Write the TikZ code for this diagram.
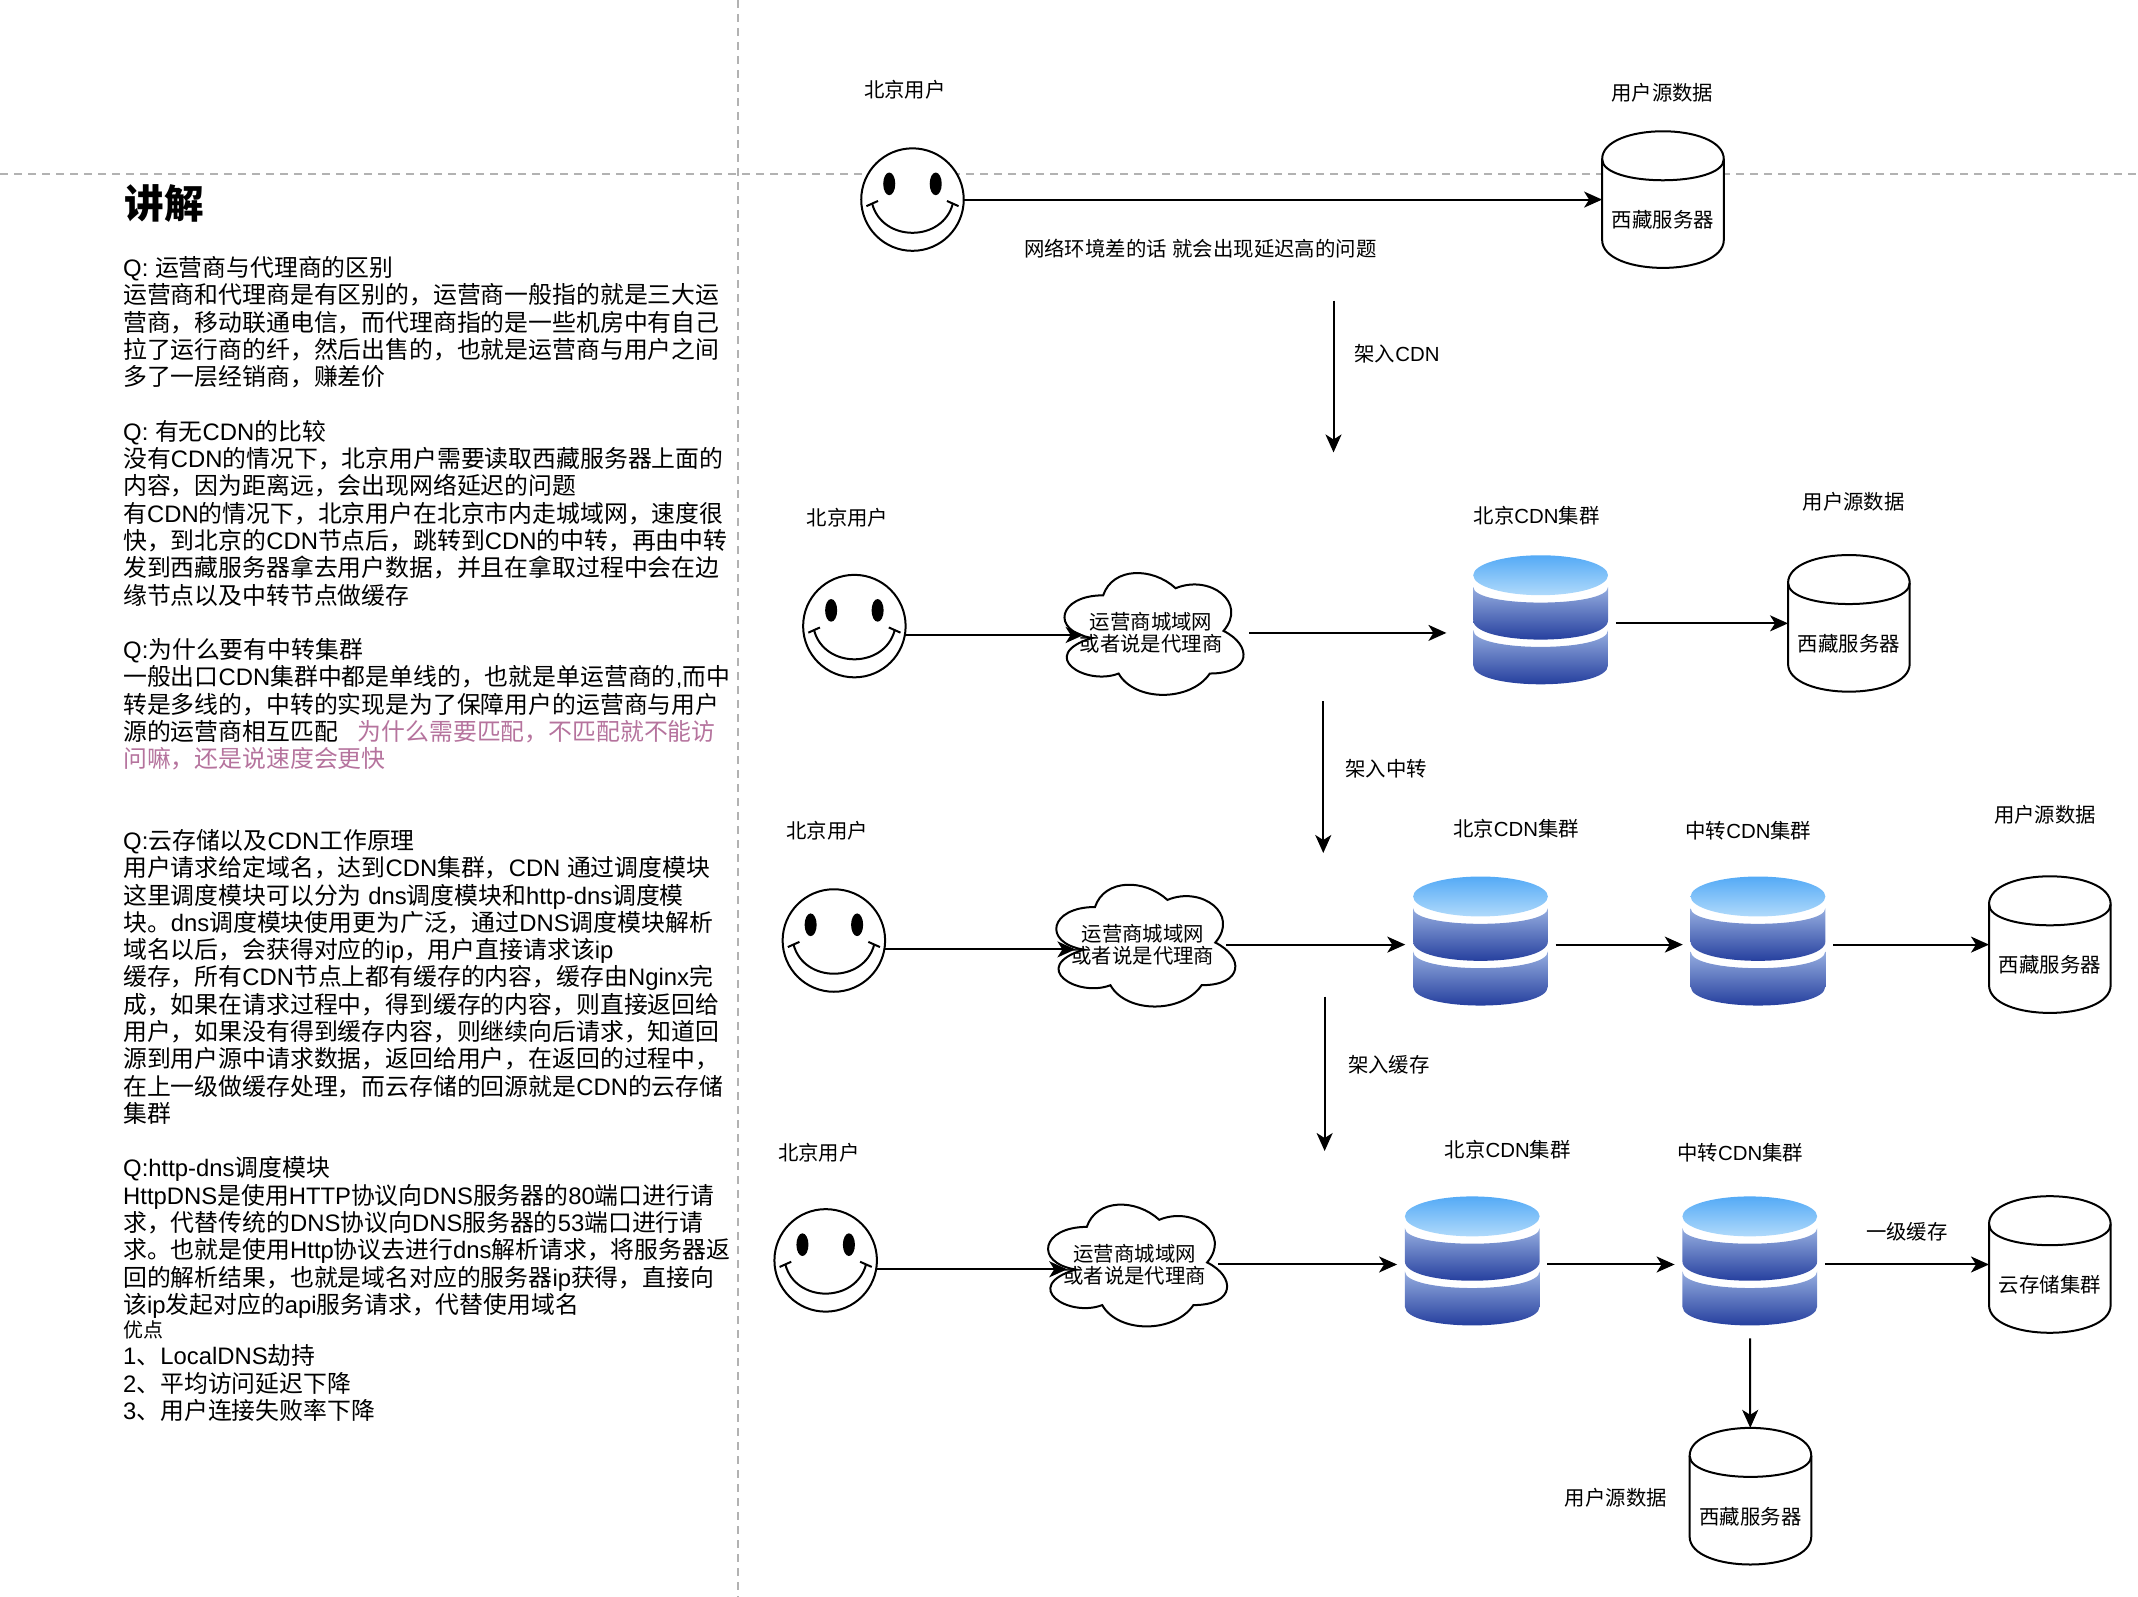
\documentclass[tikz,border=0pt]{standalone}
\usepackage{fontspec}
\usetikzlibrary{arrows.meta}
\setmainfont{Liberation Sans}
\newfontfamily\cjk{Noto Sans CJK SC}
\definecolor{guidegray}{RGB}{178,178,178}
\definecolor{notepink}{RGB}{181,115,157}
\definecolor{disktop}{RGB}{84,170,246}
\definecolor{disklow}{RGB}{176,218,251}
\definecolor{bandtop}{RGB}{150,174,224}
\definecolor{bandlow}{RGB}{24,50,150}

% han characters go to the cjk family, all the rest stays in the main font
\newXeTeXintercharclass\cjkclass
\newcount\chr
\chr="3000 \loop\ifnum\chr<"A000 \XeTeXcharclass\chr=\cjkclass \advance\chr by 1 \repeat
\chr="FF00 \loop\ifnum\chr<"FFF0 \XeTeXcharclass\chr=\cjkclass \advance\chr by 1 \repeat
\XeTeXinterchartoks 0 \cjkclass={\cjk}
\XeTeXinterchartoks 4095 \cjkclass={\cjk}
\XeTeXinterchartoks \cjkclass 0={\rmfamily}
\XeTeXinterchartoks \cjkclass 4095={\rmfamily}
\XeTeXinterchartokenstate=1

\tikzset{
    lbl/.style={inner sep=0, font=\fontsize{20.4}{22}\selectfont},
    shapeline/.style={line width=2pt, draw=black},
    flowline/.style={line width=2pt, -{Stealth[length=18pt,width=16pt,inset=5pt]}},
    guide/.style={line width=1.6pt, draw=guidegray, dash pattern=on 8pt off 6pt},
    pics/smiley/.style={code={
        \node[circle, shapeline, fill=white, minimum size=102.5pt, inner sep=0, outer sep=0] (-face) {};
        \fill (-17,-11.5) ellipse [x radius=4.4, y radius=8.3];
        \fill (17,-11.5) ellipse [x radius=4.4, y radius=8.3];
        \draw[shapeline] (-29.5,3) .. controls (-22,31.4) and (22,31.4) .. (29.5,3);
        \draw[shapeline] (-33.7,4.8) -- (-25.2,1);
        \draw[shapeline] (25.2,1) -- (33.7,4.8);
    }},
    pics/dbcyl/.style={code={
        \node[minimum width=121.7pt, minimum height=136.7pt, inner sep=0, outer sep=0] (-body) {};
        \draw[shapeline, fill=white] (-44.5,-29.5) .. controls (-44.5,-56.8) and (44.5,-56.8) .. (44.5,-29.5)
            -- (44.5,29.5) .. controls (44.5,56.8) and (-44.5,56.8) .. (-44.5,29.5) -- cycle;
        \draw[shapeline] (-44.5,-29.5) .. controls (-44.5,-9) and (44.5,-9) .. (44.5,-29.5);
        \node[lbl] (-text) at (0,15) {#1};
    }},
    pics/cdnstack/.style={code={
        \node[minimum width=150.4pt, minimum height=147.6pt, inner sep=0, outer sep=0] (-body) {};
        \shade[top color=disktop, bottom color=disklow] (0,-35.2) ellipse [x radius=49.3, y radius=14.6];
        \shade[top color=bandtop, bottom color=bandlow] (-49.3,-26.6) .. controls (-49.3,-11.4) and (49.3,-11.4) .. (49.3,-26.6)
            -- (49.3,-2.3) .. controls (49.3,16.6) and (-49.3,16.6) .. (-49.3,-2.3) -- cycle;
        \shade[top color=bandtop, bottom color=bandlow] (-49.3,5) .. controls (-49.3,21.3) and (49.3,21.3) .. (49.3,5)
            -- (49.3,30.7) .. controls (49.3,49.2) and (-49.3,49.2) .. (-49.3,30.7) -- cycle;
    }},
    pics/netcloud/.style={code={
        \node[minimum width=166.8pt, minimum height=60pt, inner sep=0, outer sep=0] (-body) {};
        \draw[shapeline, fill=white] (-35,-27.5) .. controls (-68,-27.5) and (-74,-1.5) .. (-43.2,3.7)
            .. controls (-84,16.2) and (-48,39.1) .. (-23.7,29.7)
            .. controls (-12,50.5) and (29,50.5) .. (43,29.7)
            .. controls (74,29.7) and (74,8.9) .. (53,-1.5)
            .. controls (71,-22.3) and (43,-43.1) .. (18,-32.7)
            .. controls (1,-48.3) and (-28,-48.3) .. (-35,-27.5) -- cycle;
        \node[lbl, align=center] (-text) at (0,0) {运营商城域网\\或者说是代理商};
    }},
}

\begin{document}
\begin{tikzpicture}[x=1.367pt, y=-1.367pt]

    \useasboundingbox (0,0) rectangle (1564,1167.6);

    % page guides
    \coordinate (gl) at (0,127.5);
    \coordinate (gr) at (1564,127.5);
    \coordinate (gt) at (540,0);
    \coordinate (gb) at (540,1167.6);
    \draw[guide] (gl) -- (gr);
    \draw[guide] (gt) -- (gb);

    % notes
    \node[anchor=west, inner sep=0, font=\fontsize{39.6}{44}\selectfont\bfseries] (title) at (91,149) {讲解};
    \node[anchor=north west, inner sep=0, align=left, font=\fontsize{23.85}{27.28}\selectfont] (notes) at (90,187.5) {%
        Q: 运营商与代理商的区别\\
        运营商和代理商是有区别的，运营商一般指的就是三大运\\
        营商，移动联通电信，而代理商指的是一些机房中有自己\\
        拉了运行商的纤，然后出售的，也就是运营商与用户之间\\
        多了一层经销商，赚差价\\
        ~\\
        Q: 有无CDN的比较\\
        没有CDN的情况下，北京用户需要读取西藏服务器上面的\\
        内容，因为距离远，会出现网络延迟的问题\\
        有CDN的情况下，北京用户在北京市内走城域网，速度很\\
        快，到北京的CDN节点后，跳转到CDN的中转，再由中转\\
        发到西藏服务器拿去用户数据，并且在拿取过程中会在边\\
        缘节点以及中转节点做缓存\\
        ~\\
        Q:为什么要有中转集群\\
        一般出口CDN集群中都是单线的，也就是单运营商的,而中\\
        转是多线的，中转的实现是为了保障用户的运营商与用户\\
        源的运营商相互匹配\hspace{20pt}\textcolor{notepink}{为什么需要匹配，不匹配就不能访}\\
        \textcolor{notepink}{问嘛，还是说速度会更快}\\
        ~\\
        ~\\
        Q:云存储以及CDN工作原理\\
        用户请求给定域名，达到CDN集群，CDN 通过调度模块\\
        这里调度模块可以分为 dns调度模块和http-dns调度模\\
        块。dns调度模块使用更为广泛，通过DNS调度模块解析\\
        域名以后，会获得对应的ip，用户直接请求该ip\\
        缓存，所有CDN节点上都有缓存的内容，缓存由Nginx完\\
        成，如果在请求过程中，得到缓存的内容，则直接返回给\\
        用户，如果没有得到缓存内容，则继续向后请求，知道回\\
        源到用户源中请求数据，返回给用户，在返回的过程中，\\
        在上一级做缓存处理，而云存储的回源就是CDN的云存储\\
        集群\\
        ~\\
        Q:http-dns调度模块\\
        HttpDNS是使用HTTP协议向DNS服务器的80端口进行请\\
        求，代替传统的DNS协议向DNS服务器的53端口进行请\\
        求。也就是使用Http协议去进行dns解析请求，将服务器返\\
        回的解析结果，也就是域名对应的服务器ip获得，直接向\\
        该ip发起对应的api服务请求，代替使用域名\\[-3pt]
        {\fontsize{20}{23}\selectfont 优点}\\
        1、LocalDNS劫持\\
        2、平均访问延迟下降\\
        3、用户连接失败率下降};

    % no CDN
    \node[lbl] (lu1) at (662,66) {北京用户};
    \node[lbl] (ls1) at (1216,68) {用户源数据};
    \pic (u1) at (667.5,146) {smiley};
    \pic (c1) at (1216.5,146) {dbcyl=西藏服务器};
    \draw[flowline] (u1-face) -- (c1-body);
    \node[lbl] (lnote) at (878,182) {网络环境差的话 就会出现延迟高的问题};

    \coordinate (d1a) at (975.5,220);
    \coordinate (d1b) at (975.5,331);
    \draw[flowline] (d1a) -- (d1b);
    \node[lbl] (ld1) at (1022,259) {架入CDN};

    % with CDN
    \node[lbl] (lu2) at (620,379) {北京用户};
    \node[lbl] (lb2) at (1124,377) {北京CDN集群};
    \node[lbl] (ls2) at (1356,367) {用户源数据};
    \pic (u2) at (625,458) {smiley};
    \pic (n2) at (842,463) {netcloud};
    \pic (b2) at (1127,456) {cdnstack};
    \pic (c2) at (1352.5,456) {dbcyl=西藏服务器};
    \draw[flowline] (u2-face.-10) -- ([xshift=16pt]u2-face.-10 -| n2-body.west);
    \draw[flowline] ([xshift=15pt]n2-body.east) -- ([xshift=-19pt]n2-body.east -| b2-body.west);
    \draw[flowline] (b2-body) -- (c2-body);

    \coordinate (d2a) at (968,513);
    \coordinate (d2b) at (968,624);
    \draw[flowline] (d2a) -- (d2b);
    \node[lbl] (ld2) at (1014,562) {架入中转};

    % with relay
    \node[lbl] (lu3) at (605,608) {北京用户};
    \node[lbl] (lb3) at (1109,606) {北京CDN集群};
    \node[lbl] (lr3) at (1279,608) {中转CDN集群};
    \node[lbl] (ls3) at (1496,596) {用户源数据};
    \pic (u3) at (610,688) {smiley};
    \pic (n3) at (836,691) {netcloud};
    \pic (b3) at (1083,691) {cdnstack};
    \pic (r3) at (1286,691) {cdnstack};
    \pic (c3) at (1499.5,691) {dbcyl=西藏服务器};
    \draw[flowline] (u3-face.-10) -- ([xshift=16pt]u3-face.-10 -| n3-body.west);
    \draw[flowline] (n3-body) -- (b3-body);
    \draw[flowline] (b3-body) -- (r3-body);
    \draw[flowline] (r3-body) -- (c3-body);

    \coordinate (d3a) at (969,729);
    \coordinate (d3b) at (969,842);
    \draw[flowline] (d3a) -- (d3b);
    \node[lbl] (ld3) at (1016,779) {架入缓存};

    % with cache
    \node[lbl] (lu4) at (599,843) {北京用户};
    \node[lbl] (lb4) at (1103,841) {北京CDN集群};
    \node[lbl] (lr4) at (1273,843) {中转CDN集群};
    \node[lbl] (lk4) at (1395,901) {一级缓存};
    \node[lbl] (ls4) at (1182,1096) {用户源数据};
    \pic (u4) at (604,922) {smiley};
    \pic (n4) at (830,925) {netcloud};
    \pic (b4) at (1077,925) {cdnstack};
    \pic (r4) at (1280,925) {cdnstack};
    \pic (k4) at (1499.5,925) {dbcyl=云存储集群};
    \pic (c4) at (1280.5,1094.5) {dbcyl=西藏服务器};
    \draw[flowline] (u4-face.-10) -- ([xshift=16pt]u4-face.-10 -| n4-body.west);
    \draw[flowline] (n4-body) -- (b4-body);
    \draw[flowline] (b4-body) -- (r4-body);
    \draw[flowline] (r4-body) -- (k4-body);
    \draw[flowline] (r4-body) -- (c4-body);

\end{tikzpicture}
\end{document}
